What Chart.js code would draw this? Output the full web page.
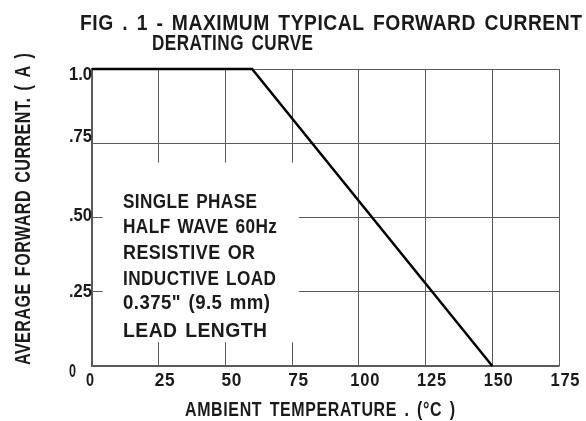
<!DOCTYPE html>
<html>
<head>
<meta charset="utf-8">
<script src="https://cdn.jsdelivr.net/npm/chart.js@4.4.1/dist/chart.umd.min.js"></script>
<style>
html,body{margin:0;padding:0;background:#fff;}
#wrap{position:relative;width:586px;height:421px;}
</style>
</head>
<body>
<div id="wrap"><canvas id="c" width="586" height="421"></canvas></div>
<script>
// ---- data ----
const tempC = [0, 60, 150];
const currentA = [1.0, 1.0, 0];
const xTickValues = [0, 25, 50, 75, 100, 125, 150, 175];
const xTickLabels = ['0', '25', '50', '75', '100', '125', '150', '175'];
const yTickValues = [1.0, 0.75, 0.5, 0.25, 0];
const yTickLabels = ['1.0', '.75', '.50', '.25', '0'];
const titleLines = ['FIG . 1 - MAXIMUM TYPICAL FORWARD CURRENT', 'DERATING CURVE'];
const xTitle = 'AMBIENT TEMPERATURE . (\u00B0C )';
const yTitle = 'AVERAGE FORWARD CURRENT. ( A )';
const noteLines = ['SINGLE PHASE', 'HALF WAVE 60Hz', 'RESISTIVE OR', 'INDUCTIVE LOAD', '0.375" (9.5 mm)', 'LEAD LENGTH'];

const FONT = '"Liberation Sans Narrow", "Liberation Sans", Arial, sans-serif';
const TXT = '#1a1a1a';

function fitText(ctx, text, x, baseline, width, size, align, ls, ws) {
  ctx.save();
  ctx.font = 'bold ' + size + 'px ' + FONT;
  ctx.fillStyle = TXT;
  ctx.textBaseline = 'alphabetic';
  ctx.textAlign = 'left';
  ctx.letterSpacing = (ls || 0) + 'px';
  ctx.wordSpacing = (ws || 0) + 'px';
  const w = ctx.measureText(text).width - (ls || 0);
  const sx = width / w;
  let left = x;
  if (align === 'right') left = x - width;
  if (align === 'center') left = x - width / 2;
  ctx.translate(left, baseline);
  ctx.scale(sx, 1);
  ctx.fillText(text, 0, 0);
  ctx.restore();
}

const decor = {
  id: 'decor',
  beforeDatasetsDraw(chart) {
    const ctx = chart.ctx;
    const xs = chart.scales.x, ys = chart.scales.y;
    const bx0 = xs.getPixelForValue(4), bx1 = xs.getPixelForValue(77.5);
    const by0 = ys.getPixelForValue(0.685), by1 = ys.getPixelForValue(0.08);
    ctx.save();
    ctx.fillStyle = '#fff';
    ctx.fillRect(bx0, by0, bx1 - bx0, by1 - by0);
    ctx.restore();
  },
  afterDraw(chart) {
    const ctx = chart.ctx;
    const xs = chart.scales.x, ys = chart.scales.y;
    fitText(ctx, titleLines[0], 80, 30, 502, 22, 'left', 0.6, 3);
    fitText(ctx, titleLines[1], 152, 50, 161, 22, 'left', 0.6, 3);
    const yW = [23, 23, 23, 23, 7];
    const yOff = [11, -1, 3, 5, 11];
    yTickValues.forEach((v, i) => {
      const py = ys.getPixelForValue(v) + yOff[i];
      if (yTickLabels[i] === '0') fitText(ctx, yTickLabels[i], 69, py, yW[i], 19, 'left');
      else fitText(ctx, yTickLabels[i], xs.left, py, yW[i], 19, 'right');
    });
    xTickValues.forEach((v, i) => {
      const lab = xTickLabels[i];
      const w = lab.length === 1 ? 8 : (lab.length === 2 ? 20 : 29);
      const px = v === 0 ? xs.getPixelForValue(v) - 2 : xs.getPixelForValue(v) + 6;
      fitText(ctx, lab, px, ys.bottom + 20, w, 18, 'center', 0.8);
    });
    fitText(ctx, xTitle, 185, 416, 270, 20, 'left', 0.8, 3);
    ctx.save();
    ctx.translate(30, 365);
    ctx.rotate(-Math.PI / 2);
    fitText(ctx, yTitle, 0, 0, 312, 22, 'left', 0.6, 3);
    ctx.restore();
    const nW = [134, 154, 132, 153, 147, 144];
    const nB = [208, 233, 259, 285, 309, 337];
    noteLines.forEach((t, i) => fitText(ctx, t, 123, nB[i], nW[i], 21, 'left', 0.5, 2));
  }
};

new Chart(document.getElementById('c'), {
  type: 'scatter',
  data: {
    datasets: [{
      data: tempC.map((t, i) => ({ x: t, y: currentA[i] })),
      showLine: true,
      borderColor: '#000',
      borderWidth: 2.5,
      pointRadius: 0,
      tension: 0,
      clip: 6
    }]
  },
  options: {
    responsive: false,
    animation: false,
    events: [],
    layout: { padding: { left: 92, right: 27, top: 69, bottom: 55 } },
    plugins: { legend: { display: false }, tooltip: { enabled: false }, title: { display: false } },
    scales: {
      x: {
        type: 'linear', min: 0, max: 175,
        afterBuildTicks: s => { s.ticks = xTickValues.map(v => ({ value: v })); },
        ticks: { display: false },
        grid: { color: '#5a5a5a', lineWidth: 1, drawTicks: false },
        border: { display: true, color: '#5a5a5a', width: 1.5 }
      },
      y: {
        type: 'linear', min: 0, max: 1,
        afterBuildTicks: s => { s.ticks = yTickValues.map(v => ({ value: v })); },
        ticks: { display: false },
        grid: { color: '#5a5a5a', lineWidth: 1, drawTicks: false },
        border: { display: true, color: '#5a5a5a', width: 1.5 }
      }
    }
  },
  plugins: [decor]
});
</script>
</body>
</html>
